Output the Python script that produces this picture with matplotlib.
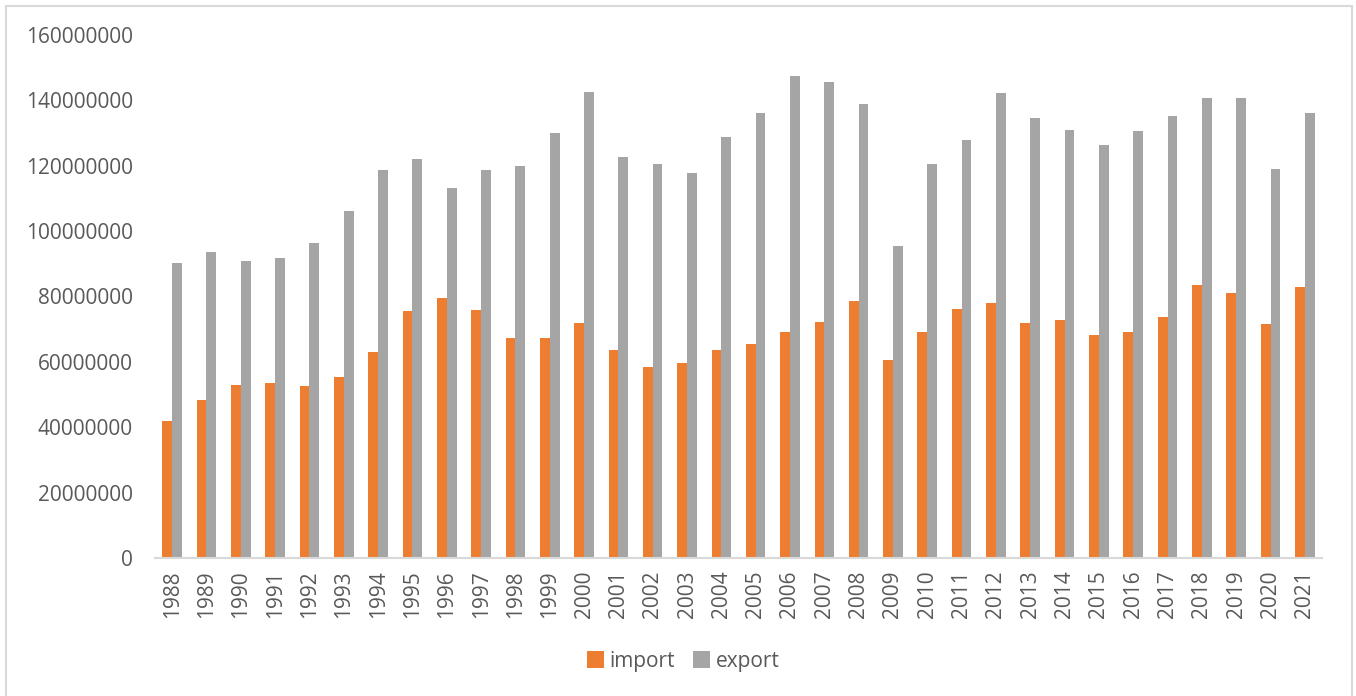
import matplotlib.pyplot as plt
import numpy as np
from matplotlib.patches import Rectangle

years = list(range(1988, 2022))
imports = [42.0, 48.4, 52.8, 53.6, 52.5, 55.5, 63.1, 75.6, 79.6, 75.7,
           67.3, 67.3, 72.0, 63.6, 58.5, 59.7, 63.5, 65.3, 69.2, 72.3,
           78.7, 60.4, 69.0, 76.2, 78.1, 71.9, 72.9, 68.2, 69.1, 73.8,
           83.5, 81.1, 71.7, 82.8]
exports = [90.2, 93.7, 90.8, 91.8, 96.3, 106.2, 118.6, 122.1, 113.1, 118.6,
           119.9, 129.9, 142.5, 122.5, 120.4, 117.6, 128.7, 136.0, 147.3, 145.7,
           138.8, 95.4, 120.4, 127.7, 142.1, 134.6, 130.8, 126.4, 130.6, 135.2,
           140.8, 140.6, 118.9, 136.1]
# values above are in millions
imports = [v * 1e6 for v in imports]
exports = [v * 1e6 for v in exports]
yticks = list(range(0, 160000001, 20000000))

ORANGE = '#ED7D31'
GRAY = '#A5A5A5'
TEXT = '#595959'
LINE = '#D9D9D9'

plt.rcParams['font.family'] = ['Open Sans', 'DejaVu Sans']

W, H = 1356, 696
fig = plt.figure(figsize=(W / 100, H / 100), dpi=100)
ax = fig.add_axes([155 / W, 1 - 558 / H, 1167 / W, (558 - 34.8) / H])

x = np.arange(len(years))
bw = 1 / 3.5
ax.bar(x - bw / 2, imports, bw, color=ORANGE, label='import')
ax.bar(x + bw / 2, exports, bw, color=GRAY, label='export')

ax.set_xlim(-0.5, len(years) - 0.5)
ax.set_ylim(0, 160000000)
ax.set_xticks(x)
ax.set_xticklabels([str(y) for y in years], rotation=90, fontsize=15, color=TEXT)
ax.set_yticks(yticks)
ax.set_yticklabels([str(v) for v in yticks], fontsize=15, color=TEXT)
ax.tick_params(axis='x', length=0, pad=9)
ax.tick_params(axis='y', length=0, pad=16)

for side in ['top', 'right', 'left']:
    ax.spines[side].set_visible(False)
ax.spines['bottom'].set_color(LINE)
ax.spines['bottom'].set_linewidth(1.5)

fig.legend(loc='center', bbox_to_anchor=(683 / W, 1 - 661 / H), ncol=2,
           frameon=False, fontsize=15, handlelength=0.85, handleheight=0.85,
           handletextpad=0.25, columnspacing=0.85, labelcolor=TEXT)

# light border round the chart area
fig.patches.append(Rectangle((6 / W, -0.02), (1352 - 6) / W, 1.02 - 6 / H,
                             transform=fig.transFigure, fill=False,
                             edgecolor=LINE, linewidth=1.5))

fig.savefig('out.png', dpi=100)
